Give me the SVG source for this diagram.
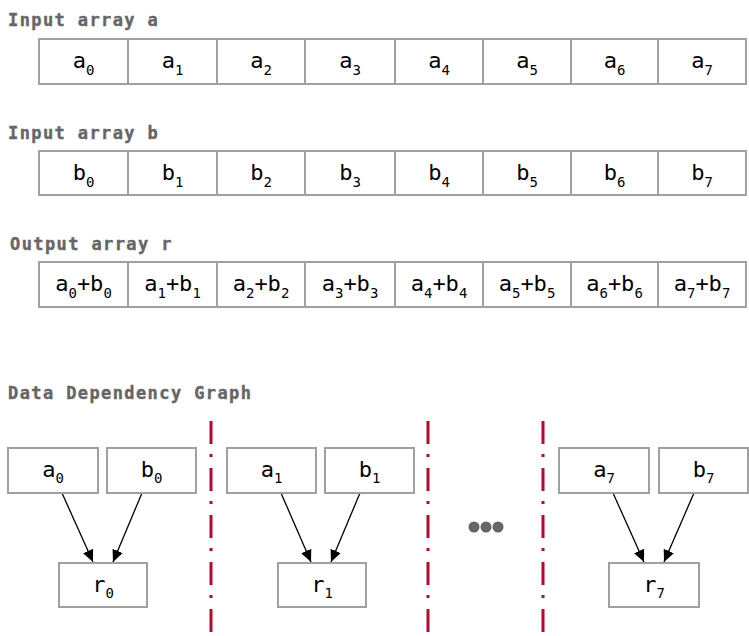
<svg xmlns="http://www.w3.org/2000/svg" width="749" height="636" viewBox="0 0 749 636">
<defs>
<style>
.title{font-family:"DejaVu Sans Mono","Liberation Mono",monospace;font-weight:bold;font-size:17px;letter-spacing:1.4px;fill:#666;stroke:#666;stroke-width:0.4}
.cell{fill:#fff;stroke:#a0a0a0;stroke-width:2}
.t{font-family:"DejaVu Sans Mono","Liberation Mono",monospace;font-size:22px;fill:#000;text-anchor:middle}
.s{font-size:14px}
.edge{stroke:#000;stroke-width:1.3;fill:none;marker-end:url(#ah)}
.sep{stroke:#b8082e;stroke-width:3;stroke-dasharray:23 10 3 11;fill:none}
</style>
<marker id="ah" markerUnits="userSpaceOnUse" markerWidth="12" markerHeight="14" viewBox="0 0 12 14" refX="12" refY="7" orient="auto">
<path d="M0,1.5 L12,7 L0,12.5 Z" fill="#000"/>
</marker>
</defs>
<rect width="749" height="636" fill="#fff"/>

<text class="title" x="8" y="26">Input array a</text>
<text class="title" x="8" y="139">Input array b</text>
<text class="title" x="10" y="250">Output array r</text>
<text class="title" x="8" y="399">Data Dependency Graph</text>

<g id="array-a">
<rect class="cell" x="39" y="39" width="89" height="45"/>
<rect class="cell" x="128" y="39" width="89" height="45"/>
<rect class="cell" x="217" y="39" width="88" height="45"/>
<rect class="cell" x="305" y="39" width="90" height="45"/>
<rect class="cell" x="395" y="39" width="88" height="45"/>
<rect class="cell" x="483" y="39" width="88" height="45"/>
<rect class="cell" x="571" y="39" width="87" height="45"/>
<rect class="cell" x="658" y="39" width="88" height="45"/>
<text class="t" x="83.5" y="68">a<tspan class="s" dy="7">0</tspan></text>
<text class="t" x="172.5" y="68">a<tspan class="s" dy="7">1</tspan></text>
<text class="t" x="261" y="68">a<tspan class="s" dy="7">2</tspan></text>
<text class="t" x="350" y="68">a<tspan class="s" dy="7">3</tspan></text>
<text class="t" x="439" y="68">a<tspan class="s" dy="7">4</tspan></text>
<text class="t" x="527" y="68">a<tspan class="s" dy="7">5</tspan></text>
<text class="t" x="614.5" y="68">a<tspan class="s" dy="7">6</tspan></text>
<text class="t" x="702" y="68">a<tspan class="s" dy="7">7</tspan></text>
</g>

<g id="array-b">
<rect class="cell" x="39" y="151" width="89" height="44"/>
<rect class="cell" x="128" y="151" width="89" height="44"/>
<rect class="cell" x="217" y="151" width="88" height="44"/>
<rect class="cell" x="305" y="151" width="90" height="44"/>
<rect class="cell" x="395" y="151" width="88" height="44"/>
<rect class="cell" x="483" y="151" width="88" height="44"/>
<rect class="cell" x="571" y="151" width="87" height="44"/>
<rect class="cell" x="658" y="151" width="88" height="44"/>
<text class="t" x="83.5" y="180">b<tspan class="s" dy="7">0</tspan></text>
<text class="t" x="172.5" y="180">b<tspan class="s" dy="7">1</tspan></text>
<text class="t" x="261" y="180">b<tspan class="s" dy="7">2</tspan></text>
<text class="t" x="350" y="180">b<tspan class="s" dy="7">3</tspan></text>
<text class="t" x="439" y="180">b<tspan class="s" dy="7">4</tspan></text>
<text class="t" x="527" y="180">b<tspan class="s" dy="7">5</tspan></text>
<text class="t" x="614.5" y="180">b<tspan class="s" dy="7">6</tspan></text>
<text class="t" x="702" y="180">b<tspan class="s" dy="7">7</tspan></text>
</g>

<g id="array-r">
<rect class="cell" x="39" y="262" width="89" height="45"/>
<rect class="cell" x="128" y="262" width="89" height="45"/>
<rect class="cell" x="217" y="262" width="88" height="45"/>
<rect class="cell" x="305" y="262" width="90" height="45"/>
<rect class="cell" x="395" y="262" width="88" height="45"/>
<rect class="cell" x="483" y="262" width="88" height="45"/>
<rect class="cell" x="571" y="262" width="87" height="45"/>
<rect class="cell" x="658" y="262" width="88" height="45"/>
<text class="t" x="83.5" y="291">a<tspan class="s" dy="7">0</tspan><tspan dy="-7">+b</tspan><tspan class="s" dy="7">0</tspan></text>
<text class="t" x="172.5" y="291">a<tspan class="s" dy="7">1</tspan><tspan dy="-7">+b</tspan><tspan class="s" dy="7">1</tspan></text>
<text class="t" x="261" y="291">a<tspan class="s" dy="7">2</tspan><tspan dy="-7">+b</tspan><tspan class="s" dy="7">2</tspan></text>
<text class="t" x="350" y="291">a<tspan class="s" dy="7">3</tspan><tspan dy="-7">+b</tspan><tspan class="s" dy="7">3</tspan></text>
<text class="t" x="439" y="291">a<tspan class="s" dy="7">4</tspan><tspan dy="-7">+b</tspan><tspan class="s" dy="7">4</tspan></text>
<text class="t" x="527" y="291">a<tspan class="s" dy="7">5</tspan><tspan dy="-7">+b</tspan><tspan class="s" dy="7">5</tspan></text>
<text class="t" x="614.5" y="291">a<tspan class="s" dy="7">6</tspan><tspan dy="-7">+b</tspan><tspan class="s" dy="7">6</tspan></text>
<text class="t" x="702" y="291">a<tspan class="s" dy="7">7</tspan><tspan dy="-7">+b</tspan><tspan class="s" dy="7">7</tspan></text>
</g>

<g id="separators">
<line class="sep" x1="211" y1="421" x2="211" y2="636"/>
<line class="sep" x1="428" y1="421" x2="428" y2="636"/>
<line class="sep" x1="543" y1="421" x2="543" y2="636"/>
</g>

<g id="ellipsis" fill="#666">
<circle cx="474" cy="527" r="5.5"/>
<circle cx="486" cy="527" r="5.5"/>
<circle cx="498" cy="527" r="5.5"/>
</g>

<g id="connectors">
<line class="edge" x1="62" y1="493" x2="93" y2="562"/>
<line class="edge" x1="142" y1="493" x2="113" y2="562"/>
<line class="edge" x1="281" y1="493" x2="311" y2="562"/>
<line class="edge" x1="360" y1="493" x2="331" y2="562"/>
<line class="edge" x1="613" y1="493" x2="644" y2="562"/>
<line class="edge" x1="694" y1="493" x2="664" y2="562"/>
</g>

<g id="node-a0"><rect class="cell" x="8" y="448" width="90" height="45"/><text class="t" x="53" y="477">a<tspan class="s" dy="6">0</tspan></text></g>
<g id="node-b0"><rect class="cell" x="107" y="448" width="89" height="45"/><text class="t" x="151.5" y="477">b<tspan class="s" dy="6">0</tspan></text></g>
<g id="node-r0"><rect class="cell" x="59" y="563" width="88" height="44"/><text class="t" x="103" y="592">r<tspan class="s" dy="6">0</tspan></text></g>

<g id="node-a1"><rect class="cell" x="227" y="448" width="89" height="45"/><text class="t" x="271.5" y="477">a<tspan class="s" dy="6">1</tspan></text></g>
<g id="node-b1"><rect class="cell" x="325" y="448" width="89" height="45"/><text class="t" x="369.5" y="477">b<tspan class="s" dy="6">1</tspan></text></g>
<g id="node-r1"><rect class="cell" x="278" y="563" width="88" height="44"/><text class="t" x="322" y="592">r<tspan class="s" dy="6">1</tspan></text></g>

<g id="node-a7"><rect class="cell" x="559" y="448" width="90" height="45"/><text class="t" x="604" y="477">a<tspan class="s" dy="6">7</tspan></text></g>
<g id="node-b7"><rect class="cell" x="659" y="448" width="89" height="45"/><text class="t" x="703.5" y="477">b<tspan class="s" dy="6">7</tspan></text></g>
<g id="node-r7"><rect class="cell" x="609" y="563" width="90" height="44"/><text class="t" x="654" y="592">r<tspan class="s" dy="6">7</tspan></text></g>
</svg>
